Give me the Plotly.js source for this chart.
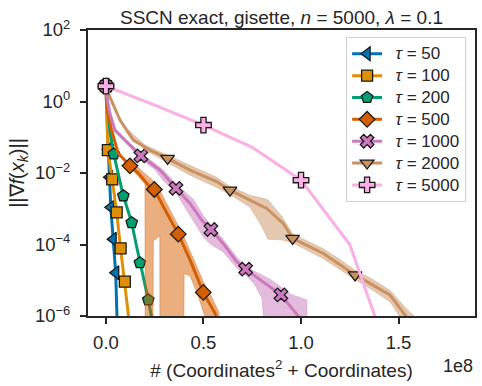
<!DOCTYPE html>
<html>
<head>
<meta charset="utf-8">
<script src="https://cdn.plot.ly/plotly-3.0.1.min.js"></script>
<style>html,body{margin:0;padding:0;background:#fff;}#chart{width:482px;height:386px;}</style>
</head>
<body>
<div id="chart"></div>
<script>
// ---- data (x in units of 1e8, y as log10 of ||grad f(x_k)||) ----
const taus = [50, 100, 200, 500, 1000, 2000, 5000];
const colors = ['#0173b2', '#de8f05', '#029e73', '#d55e00', '#cc78bc', '#ca9161', '#fbafe4'];
const symbols = ['triangle-left', 'square', 'pentagon', 'diamond', 'x', 'triangle-down', 'cross'];

const x50 = [0, 0.004, 0.012, 0.018, 0.025, 0.037, 0.050, 0.057];
const lg50 = [0.43, -0.3, -1.34, -2.12, -2.96, -3.85, -4.79, -6.1];
const mk50 = [0, 2, 3, 4, 5, 6];

const x100 = [0, 0.004, 0.010, 0.032, 0.055, 0.075, 0.097, 0.120];
const lg100 = [0.43, -0.5, -1.36, -2.18, -3.10, -4.11, -5.04, -6.2];
const mk100 = [0, 2, 3, 4, 5, 6];

const x200 = [0, 0.010, 0.020, 0.040, 0.065, 0.089, 0.110, 0.132, 0.155, 0.174, 0.195, 0.217, 0.240];
const lg200 = [0.43, -0.3, -0.8, -1.47, -2.1, -2.64, -3.0, -3.39, -4.0, -4.51, -5.0, -5.55, -6.2];
const mk200 = [0, 3, 5, 7, 9, 11];

const x500 = [0, 0.004, 0.029, 0.063, 0.123, 0.166, 0.217, 0.248, 0.303, 0.371, 0.431, 0.499, 0.559, 0.575];
const lg500 = [0.43, -0.15, -0.80, -1.45, -1.80, -2.0, -2.34, -2.46, -3.03, -3.71, -4.43, -5.34, -5.92, -6.2];
const mk500 = [0, 4, 7, 9, 11];
const bx500 = [0.10, 0.123, 0.157, 0.200, 0.201, 0.240, 0.243, 0.276, 0.277, 0.397, 0.401, 0.431, 0.47, 0.50, 0.54, 0.58];
const bhi500 = [-1.62, -1.70, -1.80, -2.02, -2.02, -2.20, -2.22, -2.48, -2.49, -3.75, -3.80, -4.15, -4.65, -5.05, -5.45, -5.9];
const blo500 = [-1.70, -1.85, -2.05, -2.30, -9, -9, -3.9, -3.76, -9, -9, -4.81, -4.88, -5.4, -5.9, -6.5, -7];

const x1000 = [0, 0.004, 0.02, 0.046, 0.097, 0.149, 0.179, 0.277, 0.359, 0.431, 0.49, 0.538, 0.60, 0.67, 0.716, 0.79, 0.897, 0.96, 1.0];
const lg1000 = [0.43, 0.13, -0.33, -0.80, -1.08, -1.36, -1.52, -1.92, -2.43, -2.85, -3.31, -3.58, -3.97, -4.48, -4.69, -4.99, -5.41, -5.83, -6.1];
const mk1000 = [0, 6, 8, 11, 14, 16];
const bx1000 = [0.1, 0.179, 0.25, 0.30, 0.359, 0.40, 0.45, 0.50, 0.538, 0.60, 0.67, 0.716, 0.76, 0.80, 0.85, 0.897, 0.95, 1.03, 1.031];
const bhi1000 = [-1.05, -1.45, -1.72, -1.95, -2.3, -2.5, -2.75, -3.2, -3.45, -3.85, -4.35, -4.6, -4.75, -4.85, -5.0, -5.2, -5.4, -5.55, -9];
const blo1000 = [-1.15, -1.6, -1.9, -2.25, -2.55, -2.9, -3.35, -3.8, -4.0, -4.2, -4.65, -4.85, -5.1, -5.5, -9, -9, -9, -9, -9];

const x2000 = [0, 0.02, 0.072, 0.14, 0.226, 0.316, 0.431, 0.567, 0.636, 0.738, 0.824, 0.909, 0.957, 1.115, 1.277, 1.456, 1.54, 1.58];
const lg2000 = [0.43, 0.13, -0.52, -1.08, -1.36, -1.59, -1.92, -2.24, -2.48, -2.76, -2.99, -3.41, -3.83, -4.25, -4.85, -5.41, -6.02, -6.4];
const mk2000 = [0, 5, 8, 12, 14];
const bx2000 = [0.1, 0.2, 0.316, 0.431, 0.567, 0.636, 0.738, 0.80, 0.83, 0.90, 0.957, 1.05, 1.115, 1.2, 1.277, 1.36, 1.456, 1.54, 1.58];
const bhi2000 = [-0.72, -1.22, -1.5, -1.78, -2.12, -2.38, -2.62, -2.70, -2.75, -3.2, -3.7, -3.95, -4.12, -4.42, -4.72, -4.95, -5.28, -5.8, -6.0];
const blo2000 = [-0.78, -1.36, -1.7, -2.06, -2.4, -2.6, -2.95, -3.5, -3.85, -3.87, -3.95, -4.22, -4.4, -4.7, -4.98, -5.25, -5.6, -6.3, -6.6];

const x5000 = [0, 0.25, 0.5, 0.75, 1.0, 1.25, 1.5];
const lg5000 = [0.43, -0.10, -0.66, -1.28, -2.2, -4.0, -7.9];
const mk5000 = [0, 2, 4];

const xTickVals = [0, 0.5, 1.0, 1.5];
const xTickText = ['0.0', '0.5', '1.0', '1.5'];
const yTickVals = [1e-6, 1e-4, 1e-2, 1, 100];
const yTickText = ['10<sup>−6</sup>', '10<sup>−4</sup>', '10<sup>−2</sup>', '10<sup>0</sup>', '10<sup>2</sup>'];

// ---- build traces ----
const series = [
  {x: x50, lg: lg50, mk: mk50},
  {x: x100, lg: lg100, mk: mk100},
  {x: x200, lg: lg200, mk: mk200},
  {x: x500, lg: lg500, mk: mk500, bx: bx500, bhi: bhi500, blo: blo500},
  {x: x1000, lg: lg1000, mk: mk1000, bx: bx1000, bhi: bhi1000, blo: blo1000},
  {x: x2000, lg: lg2000, mk: mk2000, bx: bx2000, bhi: bhi2000, blo: blo2000},
  {x: x5000, lg: lg5000, mk: mk5000}
];
const pw = v => Math.pow(10, v);
function rgba(hex, a) {
  const r = parseInt(hex.slice(1, 3), 16), g = parseInt(hex.slice(3, 5), 16), b = parseInt(hex.slice(5, 7), 16);
  return `rgba(${r},${g},${b},${a})`;
}
const markerSize = [12, 11, 12, 12, 12, 12, 13];
const traces = [];
const legendTraces = [];
series.forEach((s, i) => {
  const c = colors[i];
  if (s.bx) {
    const bxs = s.bx.concat(s.bx.slice().reverse());
    const bys = s.bhi.map(pw).concat(s.blo.slice().reverse().map(pw));
    traces.push({x: bxs, y: bys, type: 'scatter', mode: 'lines', fill: 'toself',
      fillcolor: rgba(c, 0.5), line: {color: rgba(c, 0.35), width: 1}, showlegend: false, hoverinfo: 'skip'});
  }
  traces.push({x: s.x, y: s.lg.map(pw), type: 'scatter', mode: 'lines',
    line: {color: c, width: 3}, showlegend: false, hoverinfo: 'skip'});
  traces.push({x: s.mk.map(k => s.x[k]), y: s.mk.map(k => pw(s.lg[k])), type: 'scatter', mode: 'markers',
    marker: {symbol: symbols[i], size: markerSize[i], color: c, line: {color: '#1a1a1a', width: 1.3}},
    showlegend: false, hoverinfo: 'skip'});
  legendTraces.push({x: [null], y: [null], type: 'scatter', mode: 'lines+markers',
    name: '<span style="font-size:17px">\u2002<i>τ</i> = ' + taus[i] + '</span>',
    line: {color: c, width: 3},
    marker: {symbol: symbols[i], size: markerSize[i], color: c, line: {color: '#1a1a1a', width: 1.3}}});
});

const layout = {
  width: 482, height: 386,
  margin: {l: 88, r: 7, t: 30, b: 70},
  paper_bgcolor: 'white', plot_bgcolor: 'white',
  font: {family: 'Liberation Sans, Arial, sans-serif', color: '#262626', size: 17},
  title: {text: 'SSCN exact, gisette, <i>n</i> = 5000, <i>λ</i> = 0.1', font: {size: 19, color: '#262626'},
    x: 0.5, xref: 'paper', xanchor: 'center', y: 1 - 17 / 386, yref: 'container', yanchor: 'middle'},
  xaxis: {range: [-0.092, 1.892], tickvals: xTickVals, ticktext: xTickText, ticks: 'outside', ticklen: 6, tickwidth: 2,
    tickcolor: '#262626', showline: true, linewidth: 2, linecolor: '#262626', mirror: true, showgrid: false, zeroline: false,
    ticklabelstandoff: 3,
    tickfont: {size: 18.5}, title: {text: '# (Coordinates<sup>2</sup> + Coordinates)', font: {size: 19}, standoff: 11}},
  yaxis: {type: 'log', range: [-6, 2], tickvals: yTickVals, ticktext: yTickText, ticks: 'outside', ticklen: 6, tickwidth: 2,
    tickcolor: '#262626', showline: true, linewidth: 2, linecolor: '#262626', mirror: true, showgrid: false, zeroline: false,
    ticklabelstandoff: 6,
    tickfont: {size: 18.5}, title: {text: '||∇<i>f</i>(<i>x</i><sub><i>k</i></sub>)||', font: {size: 20}, standoff: 5}},
  legend: {x: 0.977, y: 0.976, xanchor: 'right', yanchor: 'top', bordercolor: '#d0d0d0', borderwidth: 1,
    bgcolor: 'rgba(255,255,255,0.85)', font: {size: 14.5}, itemwidth: 30},
  annotations: [{text: '1e8', x: (458 - 88) / 387, y: (316 - 366) / 286, xref: 'paper', yref: 'paper',
    xanchor: 'center', yanchor: 'middle', showarrow: false, font: {size: 18}}],
  showlegend: true
};

Plotly.newPlot('chart', traces.concat(legendTraces), layout, {staticPlot: true, displayModeBar: false});
</script>
</body>
</html>
